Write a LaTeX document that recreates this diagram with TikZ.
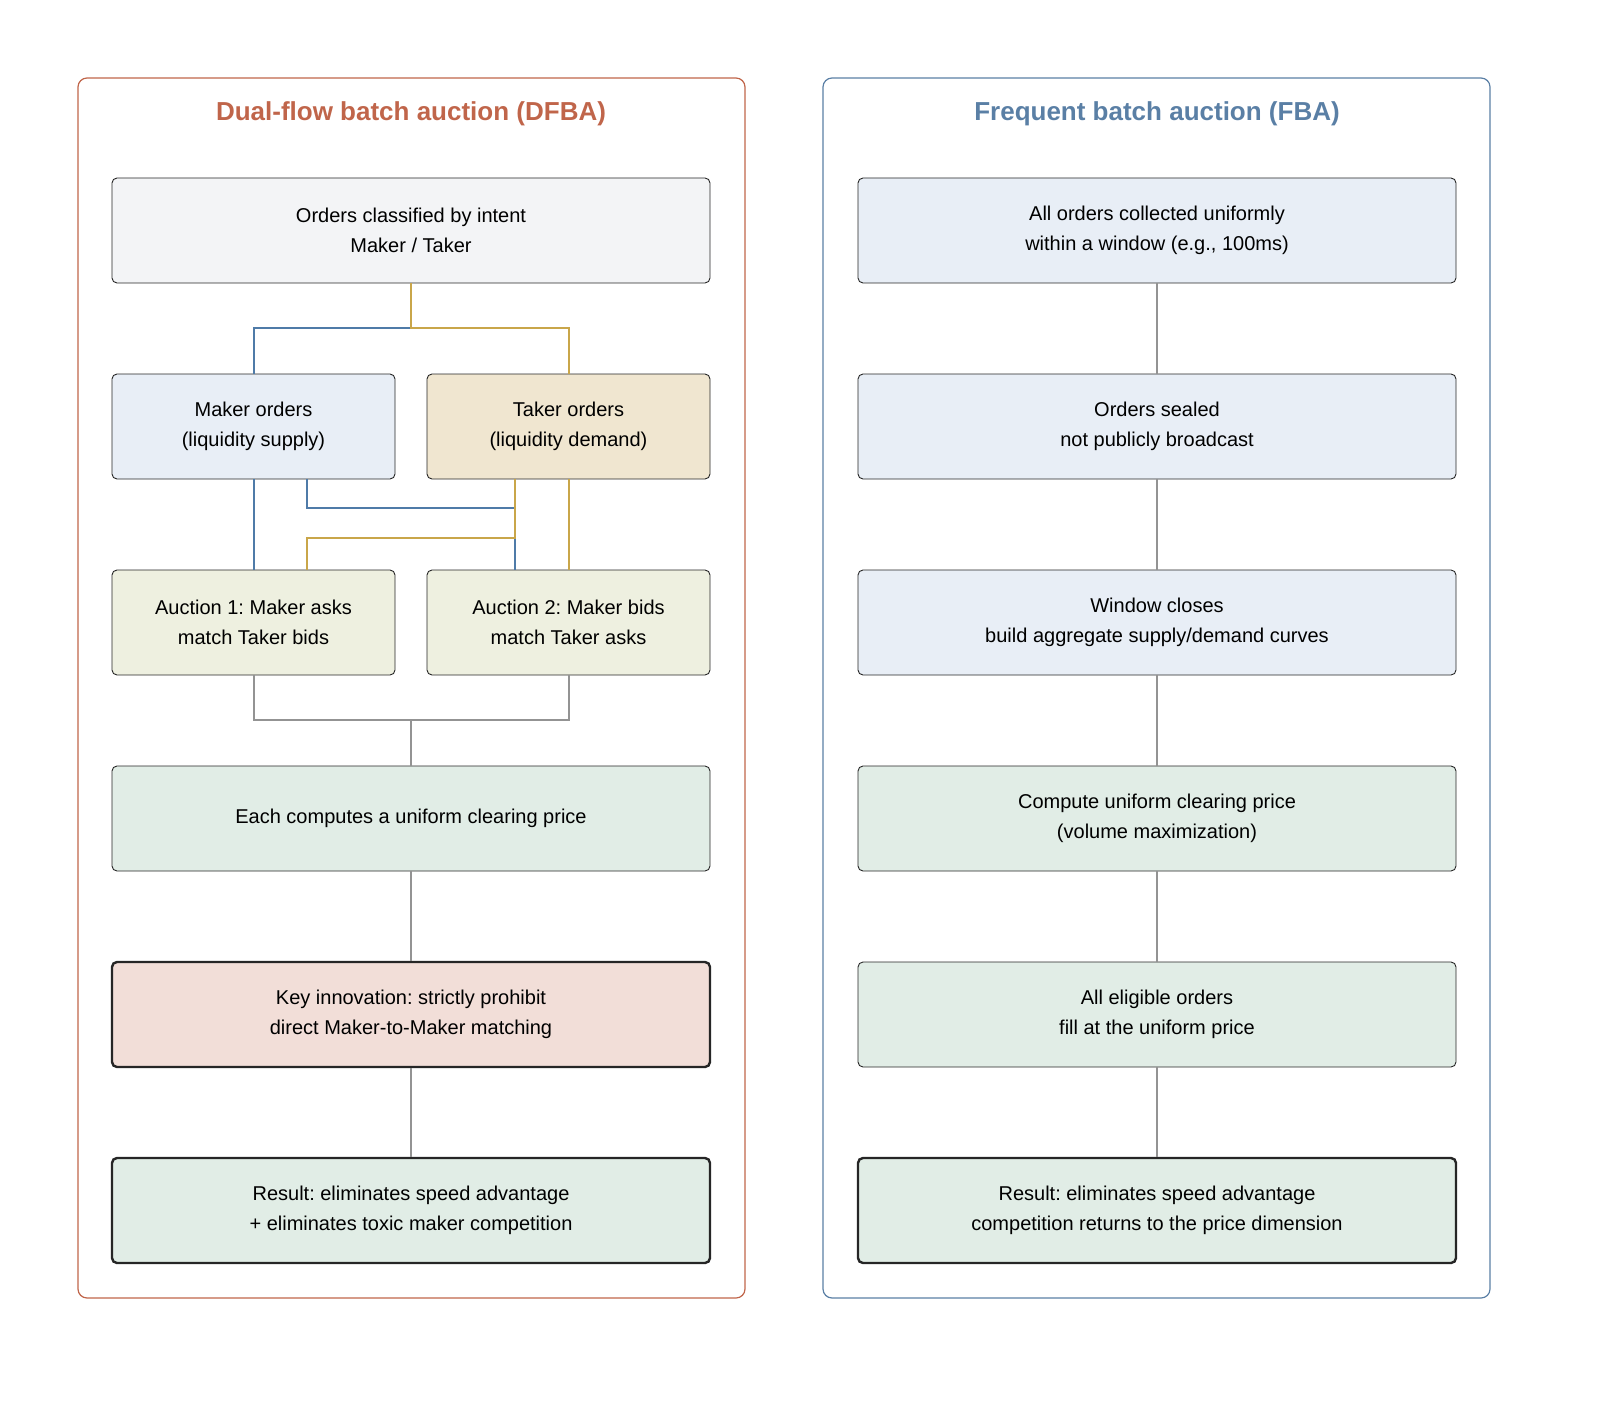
\documentclass[tikz,border=0pt]{standalone}
\usepackage{fontspec}
\setmainfont{Liberation Sans}
\frenchspacing
\begin{document}
\begin{tikzpicture}[x=1pt,y=-1pt,
 box/.style={draw=black!85,line width=0.9pt,rounded corners=5pt,align=center,font=\fontsize{20}{30}\selectfont},
 keybox/.style={box,line width=2.4pt},
 panel/.style={rounded corners=9pt,line width=1.2pt},
 ttl/.style={font=\fontsize{26}{30}\selectfont\bfseries},
 bl/.style={draw=lblue,line width=2pt},
 gd/.style={draw=lgold,line width=2pt},
 gy/.style={draw=gray!85,line width=2pt}]
\definecolor{tred}{HTML}{C0654A}\definecolor{tblue}{HTML}{5A7FA5}
\definecolor{fgray}{HTML}{F3F4F6}\definecolor{fblue}{HTML}{E8EEF6}
\definecolor{ftan}{HTML}{F0E6D0}\definecolor{fyg}{HTML}{EEF0E0}
\definecolor{fgreen}{HTML}{E1EDE6}\definecolor{fpink}{HTML}{F2DED8}
\definecolor{lblue}{HTML}{4F7BA8}\definecolor{lgold}{HTML}{C9A64A}
\useasboundingbox (0,0) rectangle (1600,1404);
\draw[panel,draw=tred] (78,78) rectangle (745,1298);
\draw[panel,draw=tblue] (823,78) rectangle (1490,1298);
\node[ttl,text=tred] (t1) at (411,114) {Dual-flow batch auction (DFBA)};
\node[ttl,text=tblue] (t2) at (1157,114) {Frequent batch auction (FBA)};
% left
\node[box,fill=fgray,minimum width=598,minimum height=105] (a0) at (411,230.5) {Orders classified by intent\\Maker / Taker};
\node[box,fill=fblue,minimum width=283,minimum height=105] (mk) at (253.5,426.5) {Maker orders\\(liquidity supply)};
\node[box,fill=ftan,minimum width=283,minimum height=105] (tk) at (568.5,426.5) {Taker orders\\(liquidity demand)};
\node[box,fill=fyg,minimum width=283,minimum height=105] (au1) at (253.5,622.5) {Auction 1: Maker asks\\match Taker bids};
\node[box,fill=fyg,minimum width=283,minimum height=105] (au2) at (568.5,622.5) {Auction 2: Maker bids\\match Taker asks};
\node[box,fill=fgreen,minimum width=598,minimum height=105] (ec) at (411,818.5) {Each computes a uniform clearing price};
\node[keybox,fill=fpink,minimum width=598,minimum height=105] (ki) at (411,1014.5) {Key innovation: strictly prohibit\\direct Maker-to-Maker matching};
\node[keybox,fill=fgreen,minimum width=598,minimum height=105] (rs) at (411,1210.5) {Result: eliminates speed advantage\\+ eliminates toxic maker competition};
% right
\node[box,fill=fblue,minimum width=598,minimum height=105] (b0) at (1157,230.5) {All orders collected uniformly\\within a window (e.g., 100ms)};
\node[box,fill=fblue,minimum width=598,minimum height=105] (b1) at (1157,426.5) {Orders sealed\\not publicly broadcast};
\node[box,fill=fblue,minimum width=598,minimum height=105] (b2) at (1157,622.5) {Window closes\\build aggregate supply/demand curves};
\node[box,fill=fgreen,minimum width=598,minimum height=105] (b3) at (1157,818.5) {Compute uniform clearing price\\(volume maximization)};
\node[box,fill=fgreen,minimum width=598,minimum height=105] (b4) at (1157,1014.5) {All eligible orders\\fill at the uniform price};
\node[keybox,fill=fgreen,minimum width=598,minimum height=105] (b5) at (1157,1210.5) {Result: eliminates speed advantage\\competition returns to the price dimension};
% connectors
\draw[bl] (a0.south) -- (411,328) -| (mk.north);
\draw[gd] (a0.south) -- (411,328) -| (tk.north);
\draw[bl] (mk.south) -- (au1.north);
\draw[bl] (307,479) |- (515,508) -- (515,570);
\draw[gd] (515,479) |- (307,538) -- (307,570);
\draw[gd] (tk.south) -- (au2.north);
\draw[gy] (au1.south) |- (411,720) -| (au2.south);
\draw[gy] (411,720) -- (ec.north);
\draw[gy] (ec.south) -- (ki.north);
\draw[gy] (ki.south) -- (rs.north);
\draw[gy] (b0.south) -- (b1.north);
\draw[gy] (b1.south) -- (b2.north);
\draw[gy] (b2.south) -- (b3.north);
\draw[gy] (b3.south) -- (b4.north);
\draw[gy] (b4.south) -- (b5.north);
\end{tikzpicture}
\end{document}
